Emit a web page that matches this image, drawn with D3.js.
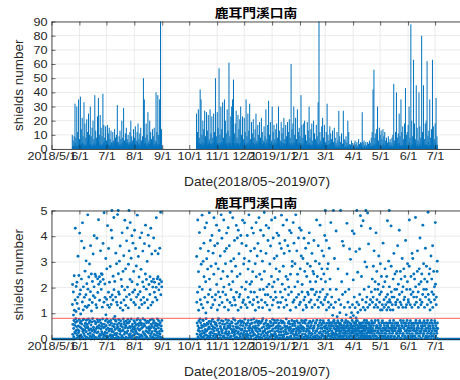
<!DOCTYPE html>
<html><head><meta charset="utf-8">
<script src="https://cdn.jsdelivr.net/npm/d3@7"></script>
<style>body{margin:0;background:#fff}svg{display:block}</style>
</head><body>
<script>
const chartTitle = "鹿耳門溪口南";
const xAxisTitle = "Date(2018/05~2019/07)";
const yAxisTitle = "shields number";
const xDomain = ["2018-05-01", "2019-08-01"];
const xTickDates = ["2018-05-01","2018-06-01","2018-07-01","2018-08-01","2018-09-01","2018-10-01","2018-11-01","2018-12-01","2019-01-01","2019-02-01","2019-03-01","2019-04-01","2019-05-01","2019-06-01","2019-07-01"];
const xTickLabels = ["2018/5/1","6/1","7/1","8/1","9/1","10/1","11/1","12/1","2019/1/1","2/1","3/1","4/1","5/1","6/1","7/1"];
const topYTicks = [0,10,20,30,40,50,60,70,80,90];
const bottomYTicks = [0,1,2,3,4,5];
const thresholdValue = 0.8;
// readings per day (each inner array = one day of readings)
const period1Start = "2018-05-24";
const period1 = [
[10,1.34,2.12,.18,.57,0],[6,1.83,.93,.41,.09,.72],[9,2.46,1.12,0,.53,.27],[32,1.52,4.31,.64,.22,.79],[8,1.07,2.04,.33,.02,.48],
[30,2.21,1.38,.69,.14,.36],[12,1.63,3.22,.05,.51,.24],[35,1.18,2.47,.31,.76,.11],[7,4.12,1.74,.47,0,.62],[37,1.91,.97,.16,.68,.43],
[14,2.33,3.81,.09,.58,.03],[22,1.44,4.52,.38,.29,.74],[9,1.13,2.03,.77,.01,.21],[33,3.54,1.62,.52,.13,.34],[18,2.64,1.27,0,.61,.44],
[8,1.72,3.04,.28,.73,.07],[21,2.15,1.23,.57,.03,.49],[12,4.83,1.94,.19,.42,.78],[25,1.31,2.41,.02,.34,.63],[10,2.92,1.53,.71,.12,.23],
[30,1.84,3.63,.39,0,.54],[9,2.53,1.09,.08,.66,.31],[15,1.42,2.24,.79,.17,.02],[20,3.31,1.68,.46,.37,.13],[7,2.03,4.02,0,.69,.26],
[38,1.61,2.52,.32,.06,.59],[13,2.43,1.33,.63,.04,.41],[8,1.22,3.92,.24,.48,.76],[23,2.34,1.81,.01,.27,.67],[36,4.64,2.13,.43,.11,.53],
[10,2.42,1.51,.73,.02,.18],[24,2.23,3.43,.14,.62,.39],[15,1.93,2.54,.49,.28,0],[9,2.51,1.24,.21,.78,.57],[39,3.72,2.32,.03,.44,.12],
[17,1.43,4.91,.58,.19,.47],[8,2.14,1.62,.26,.01,.71],[16,3.13,.94,.12,.52,.37],[6,1.54,2.73,.77,.23,.04],[17,4.41,1.32,.42,.64,.09],
[11,1.82,3.52,0,.31,.68],[15,1.23,2.21,.54,.13,.38],[7,2.82,1.63,.17,.72,.02],[13,1.34,4.23,.61,.39,.29],[5,3.93,1.71,.11,.04,.51],
[12,1.52,2.44,.28,.79,.16],[6,4.73,1.92,.02,.47,.58],[14,2.24,.88,.37,.21,.74],[8,1.63,3.34,.69,.03,.14],[10,2.93,1.43,.22,.56,.42],
[31,1.32,4.84,.48,.08,0],[5,2.54,1.83,.76,.33,.61],[9,1.74,3.03,.04,.39,.19],[13,3.62,1.21,.29,.71,.52],[7,1.41,2.32,.59,.01,.13],
[20,2.04,4.13,.09,.47,.32],[8,1.12,2.63,.36,.78,.03],[29,3.24,1.52,.67,.18,.57],[6,1.91,4.62,0,.26,.44],[11,2.73,1.31,.51,.07,.69],
[15,1.64,3.82,.23,.61,.02],[7,4.32,2.02,.31,.43,.77],[10,1.21,2.91,.62,.04,.17],[5,3.43,1.73,.13,.68,.49],[12,2.32,4.53,.44,.21,.06],
[20,1.53,3.14,.78,.32,.11],[9,4.02,2.23,.02,.49,.58],[6,1.82,3.73,.38,.14,.27],[14,2.63,1.42,.71,.01,.46],[8,4.23,1.91,.19,.63,.37],
[16,1.33,3.52,.53,.29,0],[6,2.84,1.63,.07,.74,.22],[12,4.82,2.12,.58,.41,.79],[18,1.73,3.21,.03,.18,.52],[7,2.41,1.22,.34,.62,.09],
[11,3.94,1.84,.72,.01,.39],[15,1.52,2.71,.16,.54,.61],[6,4.13,1.34,.43,.11,.02],[9,2.22,3.42,.79,.27,.48],[50,1.62,2.03,0,.59,.21],
[35,3.71,1.41,.52,.17,.73],[8,2.53,4.43,.12,.04,.31],[18,1.94,2.32,.63,.44,.08],[10,3.02,1.53,.27,.69,0],[26,1.21,4.04,.41,.23,.64],
[6,2.12,3.62,.01,.48,.33],[20,1.73,2.42,.74,.13,.42],[12,4.31,1.32,.21,.57,.04],[7,2.24,3.31,.49,.28,.77],[14,1.43,2.02,.09,.01,.62],
[9,2.33,3.93,.44,.71,.18],[15,1.82,2.21,.02,.32,.53],[6,3.43,1.62,.61,.14,.39],[40,2.01,4.72,.28,.51,.03],[12,1.52,2.34,.78,.22,.58],
[38,2.42,3.32,.12,.43,.71],[10,1.91,2.14,.54,.02,.29],[35,3.53,2.31,.19,.63,.08],[90,4.93,1.72,.39,0,.51],[14,2.23,2.03,.72,.31,.04]
];
const period2Start = "2018-10-09";
const period2 = [
[25,3.21,1.43,.19,.62,0],[12,1.82,4.63,.51,.08,.33],[28,2.62,1.12,.02,.71,.42],[8,4.14,2.03,.29,.17,.78],[42,1.53,3.52,.63,.01,.12],
[35,2.91,1.34,.44,.53,.21],[10,4.82,1.93,.07,.31,.74],[20,1.21,3.02,.72,.04,.49],[14,3.73,2.42,.23,.58,.13],[27,1.62,4.33,0,.37,.28],
[9,2.23,1.01,.53,.79,.16],[26,4.52,3.12,.32,.03,.61],[13,1.43,2.72,.58,.11,.39],[24,3.42,1.73,.01,.47,.68],[7,4.91,2.33,.41,.22,.06],
[28,1.92,3.83,.14,.59,.27],[11,2.83,1.22,.68,.02,.52],[23,4.03,1.63,.24,.38,.77],[8,1.33,3.34,.47,.12,.01],[25,2.52,4.72,.31,.66,.19],
[12,3.63,1.52,.03,.43,.57],[50,1.72,2.93,.61,.18,.09],[9,4.43,2.12,.13,.52,.34],[26,1.13,3.72,.39,.02,.73],[15,2.73,1.83,.79,.27,.21],
[57,4.22,1.32,.17,.61,.04],[10,1.63,3.23,.49,.14,.41],[30,2.34,4.83,.01,.71,.29],[14,3.92,1.42,.33,.23,.58],[33,1.83,2.63,.69,.06,.11],
[8,4.63,2.02,.12,.42,.48],[35,1.24,3.41,.57,.03,.22],[20,2.93,1.72,.27,.76,.37],[11,3.52,4.12,.04,.19,.63],[28,1.52,2.43,.43,.51,.14],
[13,4.33,1.13,.72,.28,.02],[61,2.12,3.63,.21,.59,.44],[9,1.42,4.92,.52,.01,.09],[23,3.03,1.92,.11,.38,.67],[30,2.63,1.31,.62,.24,.31],
[35,4.72,2.23,0,.49,.79],[49,1.62,3.12,.37,.13,.26],[11,3.83,1.52,.18,.73,.03],[18,1.32,2.83,.59,.31,.47],[27,4.42,1.82,.08,.02,.42],
[8,2.43,3.93,.48,.22,.61],[24,1.12,4.23,.28,.68,.01],[14,3.32,1.63,.03,.41,.17],[21,1.73,2.53,.71,.09,.53],[30,4.03,1.23,.22,.63,.34],
[10,2.02,3.72,.39,.01,.69],[23,4.62,1.42,.13,.52,.18],[7,1.52,2.92,.63,.27,.04],[22,3.13,4.52,.32,.77,.43],[12,1.93,1.33,.02,.18,.58],
[35,3.63,2.22,.53,.11,.29],[9,1.22,4.03,.19,.62,.03],[25,2.72,1.62,.72,.42,.14],[13,4.83,3.03,.01,.33,.51],[32,1.43,2.13,.44,.59,.23],
[7,3.42,1.83,.12,.02,.74],[19,2.23,4.32,.61,.39,.31],[11,1.33,2.62,.27,.13,.48],[21,4.12,1.53,.78,.21,0],[8,1.82,3.52,.17,.64,.42],
[14,2.93,1.12,.51,.04,.33],[25,4.53,2.42,0,.71,.12],[6,1.63,3.23,.42,.28,.63],[17,3.72,1.43,.09,.53,.19],[10,1.23,4.72,.69,.01,.38],
[19,2.52,1.92,.31,.61,.07],[8,4.23,3.42,.63,.17,.02],[22,1.52,2.32,.03,.43,.71],[12,3.03,1.22,.23,.79,.29],[6,1.93,4.03,.48,.11,.59],
[16,4.92,2.63,.14,.32,.01],[9,1.42,1.72,.39,.62,.24],[28,3.33,4.42,.72,.04,.52],[7,2.03,1.32,.21,.41,.13],[17,1.72,3.83,.58,.27,0],
[34,4.32,2.13,.02,.51,.43],[10,1.13,2.92,.29,.09,.68],[19,3.62,1.63,.51,.63,.18],[6,2.43,4.63,.13,.01,.32],[30,1.32,2.03,.77,.39,.53],
[12,3.93,1.52,.18,.12,.61],[17,2.22,3.13,0,.72,.28],[7,4.72,1.83,.42,.19,.04],[14,1.62,2.73,.63,.48,.11],[18,3.23,4.12,.09,.31,.73],
[8,1.42,2.32,.52,.02,.41],[30,4.03,1.23,.28,.61,.17],[13,2.63,3.72,.03,.14,.49],[6,1.83,1.42,.71,.38,.27],[19,3.52,4.82,.16,.01,.62],
[11,2.13,1.62,.43,.69,.08],[15,4.43,2.83,.11,.29,.02],[22,1.23,3.33,.62,.18,.52],[7,3.83,1.93,0,.47,.37],[17,1.52,2.43,.27,.78,.19],
[9,4.63,1.32,.49,.07,.01],[19,2.32,3.63,.21,.42,.61],[12,1.72,2.02,.68,.03,.33],[21,3.42,4.22,.08,.59,.47],[8,1.12,2.52,.41,.24,.12],
[60,4.13,1.83,.02,.31,.72],[14,2.83,3.02,.59,.52,.21],[18,1.43,4.53,.32,.01,.38],[30,3.73,1.52,.13,.69,.61],[10,2.03,2.93,.52,.17,.04],
[22,4.83,1.23,.23,.41,.29],[7,1.62,3.43,.71,.02,.14],[28,2.52,2.23,.38,.62,.48],[12,3.93,1.73,.01,.33,.22],[15,1.33,4.32,.62,.11,.43],
[9,2.73,1.43,.29,.53,.03],[38,4.23,3.23,.12,.72,.39],[17,1.83,2.12,.48,.19,.63],[8,3.13,1.13,.02,.44,.31],[18,1.52,3.92,.41,.08,.71],
[20,2.63,1.63,.18,.61,.01],[10,3.53,1.32,.73,.29,.12],[6,1.23,2.43,.39,.02,.52],[19,2.93,1.82,.11,.49,.33],[13,1.73,3.73,.61,.21,.04],
[30,4.13,1.43,.28,.42,.69],[8,2.23,2.83,.03,.13,.51],[14,1.52,1.93,.52,.63,.22],[18,3.33,1.23,.19,.01,.41],[6,1.93,2.63,.71,.32,.09],
[20,2.53,3.83,.43,.51,.02],[11,1.33,1.72,.12,.23,.61],[7,3.03,2.23,.63,.04,.31],[17,1.83,4.63,.32,.73,.14],[9,2.43,1.52,.01,.41,.53],
[33,3.63,1.23,.51,.09,.24],[90,1.63,2.93,.22,.62,.03],[12,4.43,1.83,.72,.28,.42],[6,1.42,2.33,.04,.53,.13],[16,2.73,3.43,.41,.19,.61],
[22,1.93,1.33,.13,.71,.29],[8,3.23,2.53,.62,.02,.48],[17,1.53,4.03,.31,.43,.11],[5,2.23,1.63,.52,.22,.01],[12,3.83,1.13,.03,.61,.39],
[32,1.73,2.73,.43,.28,.12],[10,2.93,1.43,.19,.72,.52],[6,1.23,3.53,.61,.01,.33],[16,2.33,1.93,.11,.42,.63],[11,4.53,1.33,.52,.21,.02],
[7,1.63,.52,.31,.63,.12],[13,.92,.21,.02,.23,.51],[5,1.22,.71,.42,.72,.19],[15,3.13,.03,.61,.13,.02],[8,1.43,.38,.22,.52,.31],
[4.2,1.93,.62,.51,.01,.43],[12,.87,.17,.12,.32,.71],[6,2.73,.46,.63,.41,.03],[27,1.53,.08,.33,.22,.52],[9,1.02,.57,.02,.61,.14],
[5,1.33,.29,.43,.11,.32],[11,2.23,.73,.71,.52,.01],[3.8,1.73,.11,.22,.03,.41],[27,3.63,.42,.52,.33,.13],[7,1.23,.63,.01,.62,.22],
[6,1.83,.22,.31,.43,.72],[9,.94,.49,.12,.02,.53],[4.5,2.53,.02,.63,.21,.31],[20,1.43,.67,.41,.52,.04],[12,1.93,.31,.03,.33,.12],
[3.5,1.23,.12,.22,.61,.43],[3.1,.83,.58,.52,.01,.13],[6,1.02,.23,.31,.42,.72],[4.2,1.33,.41,.02,.23,.51],[2.3,.91,.07,.63,.12,.32],
[4.1,1.63,.62,.21,.52,.02],[6,1.22,.33,.42,.31,.61],[3.4,.82,.71,.12,.01,.22],[5,1.43,.18,.53,.71,.33],[2.6,1.03,.47,.01,.42,.13],
[7,1.33,.02,.32,.22,.62],[3.5,1.73,.53,.61,.03,.43],[4.8,1.13,.28,.12,.52,.21],[4.4,2.43,.61,.43,.31,.02],[26,1.53,.13,.22,.63,.51],
[4.6,1.23,.42,.02,.33,.12],[6,1.93,.72,.52,.21,.41],[3.0,1.13,.09,.31,.62,.02],[5,1.43,.51,.13,.41,.72],[2.8,1.63,.22,.61,.03,.23],
[4.9,1.23,.63,.42,.32,.11],[3.7,2.03,.31,.02,.53,.62],[6,1.33,.02,.23,.12,.41],[4.3,1.53,.47,.52,.33,.03],[8,1.83,.71,.31,.61,.22],
[12,2.33,1.43,.12,.41,.62],[42,1.63,2.83,.52,.02,.31],[56,3.43,1.23,.21,.63,.13],[8,1.93,2.23,.72,.32,.01],[11,1.33,4.13,.43,.11,.52],
[14,2.63,1.53,.02,.51,.23],[30,1.23,1.93,.31,.72,.42],[6,2.13,3.23,.62,.22,.03],[15,1.43,1.73,.13,.41,.53],[10,2.93,1.13,.52,.01,.32],
[13,1.83,2.43,.22,.63,.11],[7,1.13,1.33,.71,.31,.42],[14,3.73,2.03,.03,.12,.61],[9,1.53,1.23,.41,.52,.22],[12,2.23,2.73,.11,.33,.02],
[6,1.33,1.63,.62,.21,.43],[8,2.43,1.13,.32,.03,.52],[4.6,1.73,1.43,.51,.61,.12],[9,1.23,3.03,.02,.42,.31],[5,2.03,1.53,.22,.71,.62],
[7,1.43,1.13,.42,.11,.02],[4.4,2.83,1.83,.12,.52,.33],[8,1.63,1.33,.61,.22,.43],[10,1.13,2.33,.31,.02,.72],[46,3.33,1.63,.52,.41,.11],
[6,1.93,2.53,.01,.32,.62],[12,1.33,1.43,.43,.61,.21],[40,2.63,1.93,.22,.03,.52],[8,1.53,3.63,.62,.31,.12],[11,2.13,1.23,.11,.52,.41],
[25,4.23,1.73,.32,.22,.02],[9,1.43,2.63,.72,.41,.31],[35,2.33,1.33,.02,.62,.52],[12,1.83,3.13,.51,.12,.21],[16,1.23,2.03,.21,.71,.43],
[7,2.73,1.53,.41,.02,.61],[18,1.63,2.43,.12,.31,.52],[43,3.83,1.23,.62,.51,.03],[10,1.33,1.93,.33,.22,.72],[12,2.23,2.93,.02,.42,.11],
[17,1.53,1.43,.52,.61,.31],[30,2.83,4.63,.21,.01,.42],[8,1.93,1.33,.71,.32,.12],[88,2.43,1.73,.03,.52,.61],[20,1.23,3.33,.42,.21,.02],
[9,3.13,1.83,.12,.61,.33],[63,1.63,2.53,.52,.41,.01],[18,2.33,1.33,.31,.12,.62],[7,4.73,2.03,.02,.72,.22],[45,1.43,1.63,.61,.33,.43],
[15,2.63,3.43,.22,.01,.52],[6,1.83,1.23,.42,.62,.12],[40,2.13,2.73,.11,.31,.71],[16,3.93,1.53,.62,.22,.02],[8,1.33,2.23,.31,.51,.41],
[80,2.53,1.43,.01,.42,.62],[12,1.73,4.43,.52,.12,.21],[45,2.93,1.93,.21,.71,.32],[7,1.23,2.33,.62,.02,.52],[18,3.53,1.63,.41,.31,.11],
[20,1.93,2.83,.12,.61,.03],[62,2.23,1.33,.72,.22,.42],[9,4.93,1.73,.02,.52,.31],[13,1.53,2.53,.32,.11,.62],[35,2.73,1.13,.51,.41,.21],
[8,1.43,3.23,.22,.02,.72],[14,2.33,1.83,.61,.31,.12],[63,3.63,1.23,.11,.52,.42],[16,1.73,2.63,.41,.21,.01],[7,2.03,1.53,.71,.62,.32],
[18,4.53,2.13,.02,.12,.52],[36,1.33,1.63,.31,.42,.22],[9,2.63,3.03,.62,.01,.41]
];
// spans with no detections (zero) shown along the baseline of the lower panel
const zeroSpans = [["2018-05-01","2018-05-24"],["2018-09-01","2018-10-09"],["2019-07-04","2019-08-01"]];

const blue = "#0072BD";
const font = "'Liberation Sans', Arial, Helvetica, sans-serif";
const cjk = "'Noto Sans CJK TC','Noto Sans CJK SC',sans-serif";
const parse = d3.timeParse("%Y-%m-%d");

function expand(start, days) {
  const s = parse(start), out = [];
  days.forEach((vals, i) => {
    const day = d3.timeDay.offset(s, i);
    vals.forEach((v, k) => out.push({ t: d3.timeMinute.offset(day, Math.round((k + 0.5) * 1440 / vals.length)), v }));
  });
  return out;
}
const readings = expand(period1Start, period1).concat(expand(period2Start, period2));

const svg = d3.select("body").append("svg").attr("width", 460).attr("height", 380);
const x = d3.scaleTime().domain(xDomain.map(parse)).range([51.5, 463]);
const [x0, x1] = x.range();
const tickDates = xTickDates.map(parse);

const panels = [
  { top: 21.5, bottom: 149, max: 90, ticks: topYTicks, kind: "bar", titleY: 17.5, xlabY: 186 },
  { top: 210.5, bottom: 339, max: 5, ticks: bottomYTicks, kind: "dot", titleY: 207.5, xlabY: 376 }
];

panels.forEach((p, i) => {
  const y = d3.scaleLinear().domain([0, p.max]).range([p.bottom, p.top]);
  const g = svg.append("g");
  const clipId = "clip" + i;
  svg.append("clipPath").attr("id", clipId).append("rect")
    .attr("x", x0).attr("y", p.top - 2).attr("width", x1 - x0).attr("height", p.bottom - p.top + 4);

  // grid
  g.append("g").selectAll("line").data(tickDates).join("line")
    .attr("x1", d => x(d)).attr("x2", d => x(d)).attr("y1", p.top).attr("y2", p.bottom)
    .attr("stroke", "#e2e2e2").attr("stroke-width", 0.7);
  g.append("g").selectAll("line").data(p.ticks).join("line")
    .attr("x1", x0).attr("x2", x1).attr("y1", d => y(d)).attr("y2", d => y(d))
    .attr("stroke", "#e2e2e2").attr("stroke-width", 0.7);

  const dg = g.append("g").attr("clip-path", `url(#${clipId})`);
  if (p.kind === "bar") {
    dg.selectAll("rect").data(readings.filter(d => d.v > 0)).join("rect")
      .attr("x", d => x(d.t) - 0.5).attr("width", 1)
      .attr("y", d => y(d.v)).attr("height", d => y(0) - y(d.v))
      .attr("fill", blue);
  } else {
    dg.selectAll("line.zero").data(zeroSpans).join("line").attr("class", "zero")
      .attr("x1", d => x(parse(d[0]))).attr("x2", d => x(parse(d[1])))
      .attr("y1", y(0)).attr("y2", y(0)).attr("stroke", blue).attr("stroke-width", 2.6);
    dg.selectAll("circle").data(readings.filter(d => d.v <= p.max + 0.05)).join("circle")
      .attr("cx", d => x(d.t)).attr("cy", d => y(d.v)).attr("r", 1.45).attr("fill", blue);
    dg.append("line").attr("x1", x0).attr("x2", x1)
      .attr("y1", y(thresholdValue)).attr("y2", y(thresholdValue))
      .attr("stroke", "#ff2a2a").attr("stroke-opacity", 0.6).attr("stroke-width", 1.2);
  }

  // axes
  const xb = g.append("g").attr("transform", `translate(0,${p.bottom})`)
    .call(d3.axisBottom(x).tickValues(tickDates).tickFormat((d, j) => xTickLabels[j])
      .tickSizeInner(-4).tickSizeOuter(0).tickPadding(3));
  const xt = g.append("g").attr("transform", `translate(0,${p.top})`)
    .call(d3.axisTop(x).tickValues(tickDates).tickFormat("").tickSizeInner(-4).tickSizeOuter(0));
  const yl = g.append("g").attr("transform", `translate(${x0},0)`)
    .call(d3.axisLeft(y).tickValues(p.ticks).tickFormat(d3.format("d"))
      .tickSizeInner(-4).tickSizeOuter(0).tickPadding(3.5));
  [xb, xt, yl].forEach(a => {
    a.select(".domain").attr("stroke", "#262626").attr("stroke-width", 0.8);
    a.selectAll(".tick line").attr("stroke", "#262626").attr("stroke-width", 0.7);
    a.selectAll("text").attr("font-family", font).attr("font-size", 11)
      .attr("fill", "#262626").attr("transform", "scale(1.15,1)");
  });

  // titles
  svg.append("text").attr("transform", `translate(256,${p.titleY}) scale(1.15,1)`)
    .attr("text-anchor", "middle").attr("font-family", cjk).attr("font-size", 12)
    .attr("font-weight", "bold").attr("fill", "#000").text(chartTitle);
  svg.append("text").attr("transform", `translate(257,${p.xlabY}) scale(1.15,1)`)
    .attr("text-anchor", "middle").attr("font-family", font).attr("font-size", 12)
    .attr("fill", "#262626").text(xAxisTitle);
  svg.append("text").attr("transform", `translate(23,${(p.top + p.bottom) / 2}) rotate(-90)`)
    .attr("text-anchor", "middle").attr("font-family", font).attr("font-size", 13.5)
    .attr("fill", "#262626").text(yAxisTitle);
});
</script>
</body></html>
